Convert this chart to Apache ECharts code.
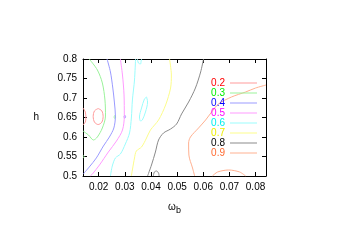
<!DOCTYPE html>
<html><head><meta charset="utf-8">
<script src="https://cdn.jsdelivr.net/npm/echarts@6/dist/echarts.min.js"></script>
<style>html,body{margin:0;padding:0;background:#fff}#c{width:349px;height:245px}</style>
</head><body><div id="c"></div>
<script>
// contour levels, legend colours
const levels = ['0.2','0.3','0.4','0.5','0.6','0.7','0.8','0.9'];
const textColors = ['#ff0000','#00ee00','#0000ff','#ff00ff','#00eeee','#eeee00','#000000','#ff6a30'];
const lineColors = ['#ff9a9a','#9af29a','#9a9aff','#ff9aff','#9afcfc','#fcfc8a','#8a8a8a','#ffb090'];
const xTicks = ['0.02','0.03','0.04','0.05','0.06','0.07','0.08'];
const yTicks = ['0.5','0.55','0.6','0.65','0.7','0.75','0.8'];

// contour pieces [omega_b, h]
const c02_loop = [[0.0198,0.673],[0.0212,0.667],[0.0217,0.6526],[0.0212,0.638],[0.0198,0.632],[0.0184,0.638],[0.0179,0.6526],[0.0184,0.667],[0.0198,0.673]];
const c02_edge = [[0.014,0.6744],[0.0149,0.664],[0.0151,0.6487],[0.0149,0.6385],[0.014,0.6308]];
const c03_main = [[0.0164,0.8],[0.0195,0.7718],[0.0214,0.7385],[0.0224,0.6949],[0.0226,0.6538],[0.0214,0.6231],[0.0195,0.6],[0.018,0.5923],[0.0161,0.6051],[0.014,0.6154]];
const c03_dot1 = [[0.0262,0.6553],[0.0265,0.6513],[0.0262,0.6473],[0.0259,0.6513],[0.0262,0.6553]];
const c03_dot2 = [[0.014,0.5535],[0.0144,0.5495],[0.014,0.5455]];
const c04_main = [[0.0232,0.8],[0.0245,0.7667],[0.0254,0.7256],[0.026,0.6897],[0.0264,0.6538],[0.0258,0.6231],[0.0241,0.6],[0.0218,0.5769],[0.0191,0.5462],[0.0164,0.5231],[0.0141,0.5051]];
const c04_dot = [[0.03,0.656],[0.0303,0.652],[0.03,0.648],[0.0297,0.652],[0.03,0.656]];
const c05_main = [[0.0283,0.8],[0.0291,0.759],[0.0297,0.7077],[0.0298,0.6538],[0.0291,0.6179],[0.0268,0.5897],[0.0237,0.5615],[0.0203,0.5282],[0.0176,0.5051],[0.0168,0.5]];
const c06_main = [[0.0341,0.8],[0.0337,0.7462],[0.0329,0.6949],[0.0325,0.6487],[0.0318,0.6103],[0.0302,0.5821],[0.0283,0.5564],[0.0264,0.5462],[0.0252,0.5256],[0.0245,0.5]];
const c06_top = [[0.0348,0.8],[0.0352,0.7897],[0.036,0.7872],[0.0363,0.7974],[0.0365,0.8]];
const c06_loop = [[0.0383,0.7026],[0.0387,0.6897],[0.0379,0.6641],[0.0367,0.6436],[0.036,0.641],[0.0356,0.6513],[0.0364,0.6744],[0.0375,0.6974],[0.0383,0.7026]];
const c07_main = [[0.0471,0.8],[0.0478,0.759],[0.0475,0.7256],[0.0456,0.6821],[0.0429,0.6436],[0.0398,0.6179],[0.0383,0.5974],[0.0364,0.5744],[0.0344,0.5641],[0.0337,0.5462],[0.0325,0.5]];
const c08_main = [[0.0601,0.8],[0.059,0.7667],[0.057,0.7256],[0.0544,0.6897],[0.0517,0.659],[0.0498,0.6333],[0.0475,0.6205],[0.0448,0.6103],[0.0429,0.5923],[0.0417,0.5615],[0.0402,0.5282],[0.0387,0.5]];
const c08_loop = [[0.0409,0.5],[0.0413,0.5103],[0.0421,0.5128],[0.0429,0.5077],[0.0431,0.5]];
const c09_main = [[0.0567,0.5],[0.0559,0.5205],[0.0545,0.5538],[0.0544,0.5846],[0.0551,0.6],[0.0582,0.6231],[0.0609,0.6436],[0.0632,0.6641],[0.0658,0.6846],[0.0708,0.7026],[0.0762,0.7154],[0.08,0.7256],[0.084,0.7333]];
const c09_arc = [[0.0635,0.5],[0.0655,0.5103],[0.0697,0.5154],[0.0739,0.5103],[0.0762,0.5]];

const pieces = [
  [0,c02_loop],[0,c02_edge],
  [1,c03_main],[1,c03_dot1],[1,c03_dot2],
  [2,c04_main],[2,c04_dot],
  [3,c05_main],
  [4,c06_main],[4,c06_top],[4,c06_loop],
  [5,c07_main],
  [6,c08_main],[6,c08_loop],
  [7,c09_main],[7,c09_arc]
];

const series = pieces.map(([i,d]) => ({
  type:'line', name: levels[i], data: d, showSymbol:false, symbol:'none',
  smooth:0.3, silent:true, animation:false, clip:true,
  itemStyle:{color: lineColors[i]},
  lineStyle:{color: lineColors[i], width:1}
}));

const font = 'Liberation Sans, Arial, sans-serif';
const tickCommon = {inside:true, length:4, lineStyle:{color:'#000', width:1}};
const xBase = {type:'value', min:0.014, max:0.084, splitNumber:7,
  axisLine:{show:true, onZero:false, lineStyle:{color:'#000', width:1}},
  axisTick:tickCommon, splitLine:{show:false}};
const yBase = {type:'value', min:0.5, max:0.8, interval:0.05,
  axisLine:{show:true, onZero:false, lineStyle:{color:'#000', width:1}},
  axisTick:tickCommon, splitLine:{show:false}};

const chart = echarts.init(document.getElementById('c'), null, {renderer:'canvas'});
chart.setOption({
  animation:false,
  grid:{left:83, right:83, top:59, bottom:69, containLabel:false},
  legend:{
    orient:'vertical', right:87, top:73, align:'right',
    icon:'rect', itemWidth:27, itemHeight:1, itemGap:0, itemTextGap:6,
    textStyle:{fontFamily:font, fontSize:10, lineHeight:9.7},
    data: levels.map((n,i)=>({name:n, textStyle:{color:textColors[i]}})),
    selectedMode:false
  },
  xAxis:[
    Object.assign({}, xBase, {position:'bottom',
      axisLabel:{show:true, fontFamily:font, fontSize:10, color:'#000', margin:6, showMinLabel:false, showMaxLabel:false,
        formatter:v=>{const s=v.toFixed(2); return xTicks.indexOf(s)>=0? s : '';}},
      name:'{w|ω}{b|b}', nameLocation:'middle', nameGap:24,
      nameTextStyle:{rich:{w:{fontFamily:font, fontSize:10, color:'#000'}, b:{fontFamily:font, fontSize:9, color:'#000', padding:[6,0,0,0]}}}
    }),
    Object.assign({}, xBase, {position:'top', axisLabel:{show:false}})
  ],
  yAxis:[
    Object.assign({}, yBase, {position:'left',
      axisLabel:{show:true, fontFamily:font, fontSize:10, color:'#000', margin:6,
        formatter:v=>{const s=String(parseFloat(v.toFixed(2))); return yTicks.indexOf(s)>=0? s : '';}},
      name:'h', nameLocation:'middle', nameRotate:0, nameGap:44,
      nameTextStyle:{fontFamily:font, fontSize:10, color:'#000'}
    }),
    Object.assign({}, yBase, {position:'right', axisLabel:{show:false}})
  ],
  series: series
});
</script></body></html>
